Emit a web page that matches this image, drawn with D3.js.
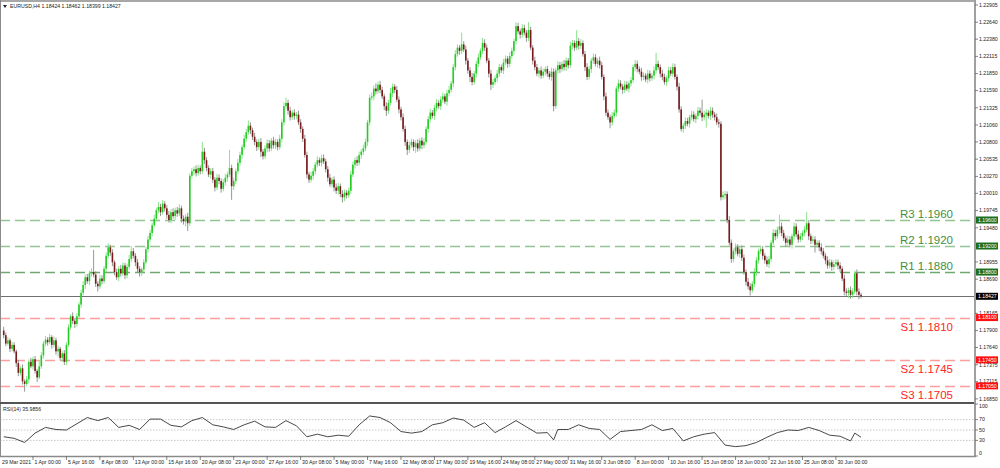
<!DOCTYPE html>
<html><head><meta charset="utf-8">
<script src="https://cdn.jsdelivr.net/npm/d3@7"></script>
<style>html,body{margin:0;padding:0;background:#fff;overflow:hidden}svg{display:block;font-family:"Liberation Sans",Arial,sans-serif}</style>
</head><body><svg id="c" width="1000" height="468"></svg>
<script>
// ---- DATA ----
const firstOpen = 1.1790;
const closes = [
1.1783,1.1770,1.1775,1.1762,1.1768,1.1758,1.1740,1.1725,1.1732,1.1712,
1.1708,1.1715,1.1742,1.1735,1.1746,1.1728,1.1718,1.1735,1.1752,1.1770,
1.1776,1.1772,1.1780,1.1768,1.1775,1.1758,1.1762,1.1748,1.1755,1.1742,
1.1768,1.1795,1.1812,1.1805,1.1800,1.1812,1.1830,1.1848,1.1860,1.1872,
1.1866,1.1878,1.1880,1.1876,1.1862,1.1858,1.1870,1.1866,1.1885,1.1905,
1.1918,1.1910,1.1895,1.1880,1.1872,1.1885,1.1878,1.1890,1.1875,1.1888,
1.1900,1.1912,1.1905,1.1895,1.1885,1.1880,1.1884,1.1895,1.1915,1.1930,
1.1940,1.1952,1.1962,1.1975,1.1980,1.1972,1.1985,1.1978,1.1968,1.1960,
1.1972,1.1966,1.1975,1.1970,1.1978,1.1962,1.1958,1.1965,1.1955,1.2028,
1.2035,1.2038,1.2032,1.2040,1.2035,1.2065,1.2052,1.2040,1.2030,1.2035,
1.2022,1.2010,1.2025,1.2020,1.2008,1.2018,1.2025,1.2030,1.2040,1.2012,
1.2020,1.2035,1.2048,1.2060,1.2072,1.2085,1.2095,1.2105,1.2098,1.2088,
1.2080,1.2072,1.2080,1.2065,1.2058,1.2070,1.2078,1.2070,1.2082,1.2075,
1.2080,1.2072,1.2085,1.2110,1.2135,1.2140,1.2128,1.2118,1.2125,1.2120,
1.2122,1.2110,1.2100,1.2085,1.2060,1.2030,1.2022,1.2028,1.2035,1.2045,
1.2052,1.2048,1.2055,1.2050,1.2038,1.2025,1.2015,1.2022,1.2010,1.2005,
1.2012,1.2000,1.1995,1.2002,1.1998,1.2005,1.2030,1.2045,1.2052,1.2048,
1.2060,1.2065,1.2070,1.2080,1.2110,1.2148,1.2150,1.2162,1.2158,1.2168,
1.2160,1.2150,1.2135,1.2128,1.2140,1.2155,1.2165,1.2160,1.2145,1.2130,
1.2118,1.2100,1.2080,1.2068,1.2075,1.2080,1.2072,1.2078,1.2070,1.2082,
1.2075,1.2080,1.2100,1.2115,1.2125,1.2120,1.2132,1.2140,1.2135,1.2145,
1.2150,1.2142,1.2155,1.2160,1.2170,1.2195,1.2215,1.2225,1.2220,1.2230,
1.2222,1.2205,1.2190,1.2180,1.2172,1.2185,1.2200,1.2210,1.2220,1.2232,
1.2225,1.2205,1.2185,1.2168,1.2172,1.2178,1.2185,1.2195,1.2190,1.2202,
1.2208,1.2200,1.2212,1.2220,1.2235,1.2258,1.2250,1.2245,1.2255,1.2248,
1.2240,1.2252,1.2225,1.2205,1.2195,1.2185,1.2190,1.2182,1.2188,1.2192,
1.2185,1.2180,1.2188,1.2135,1.2190,1.2198,1.2192,1.2200,1.2195,1.2205,
1.2198,1.2228,1.2232,1.2225,1.2235,1.2228,1.2232,1.2215,1.2195,1.2180,
1.2192,1.2205,1.2210,1.2200,1.2205,1.2198,1.2180,1.2150,1.2125,1.2118,
1.2110,1.2120,1.2125,1.2162,1.2170,1.2165,1.2160,1.2168,1.2162,1.2170,
1.2175,1.2195,1.2200,1.2192,1.2188,1.2180,1.2182,1.2176,1.2185,1.2178,
1.2182,1.2190,1.2200,1.2195,1.2185,1.2180,1.2172,1.2178,1.2190,1.2185,
1.2195,1.2180,1.2165,1.2130,1.2100,1.2105,1.2112,1.2108,1.2118,1.2122,
1.2115,1.2120,1.2128,1.2125,1.2118,1.2122,1.2125,1.2120,1.2128,1.2122,
1.2118,1.2110,1.2108,1.1995,1.1998,1.2000,1.1960,1.1925,1.1900,1.1912,
1.1918,1.1908,1.1915,1.1902,1.1880,1.1865,1.1858,1.1852,1.1862,1.1880,
1.1898,1.1912,1.1915,1.1905,1.1898,1.1892,1.1900,1.1925,1.1940,1.1935,
1.1945,1.1950,1.1940,1.1932,1.1925,1.1930,1.1922,1.1935,1.1950,1.1938,
1.1930,1.1935,1.1940,1.1945,1.1955,1.1935,1.1928,1.1930,1.1922,1.1925,
1.1918,1.1912,1.1905,1.1898,1.1890,1.1895,1.1888,1.1892,1.1895,1.1890,
1.1885,1.1870,1.1850,1.1848,1.1852,1.1845,1.1850,1.1878,1.1850,1.1845,
1.18427];
// wick extension beyond the body, in pips
const hiWick = [
6,4,5,3,5,4,3,5,4,6, 3,5,4,6,4,5,3,8,5,4, 6,4,5,3,6,4,5,3,4,5, 4,5,3,6,4,5,4,5,6,4,
5,4,6,34,5,4,6,5,4,5, 6,4,5,3,5,4,6,5,4,5, 6,8,5,4,5,4,3,5,4,6, 5,4,6,4,8,5,6,4,5,6,
5,6,4,5,6,4,5,4,6,4, 5,4,6,5,4,15,6,5,4,5, 5,4,6,5,4,5,6,4,28,5, 5,4,6,5,4,6,5,8,5,4,
6,4,5,6,4,5,6,5,4,6, 5,4,6,5,6,8,5,6,4,5, 4,6,5,4,6,5,4,6,5,4, 6,4,5,6,4,5,6,4,5,6,
5,4,6,5,4,5,6,5,4,6, 5,4,6,5,4,5,6,5,8,5, 6,5,4,6,5,8,5,4,6,5, 4,6,5,4,6,5,4,5,6,4,
5,6,4,5,6,4,5,6,4,5, 6,4,5,6,4,5,6,5,4,18, 5,6,4,5,6,4,5,6,4,8, 6,5,4,6,5,4,6,5,4,6,
5,4,6,5,4,6,5,4,6,5, 4,12,5,4,6,5,4,6,5,4, 5,4,6,5,4,6,5,4,6,5, 4,6,5,4,17,5,6,4,5,6,
5,4,6,5,4,6,5,4,6,5, 4,6,5,4,6,5,4,6,5,4, 5,4,6,5,4,6,5,4,6,5, 4,6,17,5,4,6,5,4,6,5,
6,5,4,6,5,4,6,5,4,6, 5,4,6,5,20,6,5,4,6,5, 4,6,5,4,6,5,4,6,5,4, 6,5,4,6,5,4,6,5,4,6,
5,4,6,5,4,6,5,4,6,5, 5,18,6,5,4,6,5,4,6,5, 6,5,4,6,17,5,4,6,5,4, 4,6,5,4,6,5,4,6,5,4,
5,4,6,5,4,6,5,4,6,5,3];
const loWick = [
5,4,3,5,4,3,6,5,4,5, 12,4,6,3,5,4,7,3,4,5, 4,5,3,6,4,5,8,4,6,5, 5,3,4,5,6,4,3,5,4,6,
4,6,5,4,5,8,4,5,4,5, 4,5,6,5,4,6,5,4,6,5, 4,5,4,6,5,7,6,4,3,5, 4,5,3,4,5,6,4,5,6,4,
5,4,6,5,4,6,5,8,12,4, 4,6,5,4,5,4,6,5,4,6, 5,6,4,5,6,4,5,6,4,21, 6,5,4,5,6,4,5,4,6,5,
5,6,4,8,5,4,6,5,4,5, 6,5,4,6,5,4,6,5,4,6, 5,4,6,5,4,6,5,4,6,5, 4,5,6,4,5,6,4,5,6,5,
6,5,8,6,5,4,5,4,6,5, 4,6,5,4,6,5,4,6,5,4, 5,4,6,8,5,4,6,5,4,6, 5,4,6,8,5,4,6,9,5,4,
6,5,4,6,5,4,6,5,4,6, 5,4,6,5,4,6,5,4,6,5, 4,6,5,8,5,4,6,5,4,5, 5,4,6,8,5,4,6,5,4,6,
4,6,5,4,6,5,4,6,5,4, 6,5,4,6,5,4,6,5,4,6, 5,4,6,8,4,5,6,4,5,6, 5,4,6,5,4,6,5,4,6,5,
4,6,5,4,6,5,4,6,5,4, 9,5,4,6,5,4,6,5,4,6, 5,4,6,5,4,6,5,4,6,5, 4,6,5,4,6,5,4,6,5,4,
5,4,6,5,4,6,5,4,6,5, 4,6,5,4,6,5,20,4,6,5, 5,4,6,5,4,6,5,4,6,5, 5,4,6,5,4,6,5,8,4,5,
6,5,4,6,5,4,6,5,4,6, 4,6,5,4,6,5,4,6,5,4, 5,4,6,5,4,6,5,4,12,5, 6,5,4,6,5,4,6,5,4,6,
5,4,6,5,8,6,5,4,6,7,3];
const rsiBars = [0,5,10,15,20,25,30,35,40,45,50,55,60,65,70,75,80,85,90,95,100,105,110,115,120,125,130,135,140,145,150,155,160,165,170,175,180,185,190,195,200,205,210,215,220,225,230,235,240,245,250,255,260,263,265,270,275,280,285,290,295,300,305,310,315,320,325,330,335,340,345,350,355,360,365,370,375,380,385,390,395,400,405,407,410];
const rsiValues = [37,34,26,44,55,51,50,62,74,68,74,55,59,51,71,71,59,56,68,74,60,56,51,60,67,56,55,68,58,37,42,37,40,38,60,77,74,64,47,44,47,60,64,73,69,55,64,45,56,68,56,44,45,31,51,51,60,53,51,32,47,49,51,60,49,53,29,37,42,45,21,18,20,26,36,45,50,49,55,49,40,38,29,44,36];
const levelNames = ["R3","R2","R1","S1","S2","S3"];
const levelValues = [1.1960,1.1920,1.1880,1.1810,1.1745,1.1705];
const lastPrice = 1.18427;
const titleText = "EURUSD,H4  1.18424 1.18462 1.18399 1.18427";
const rsiTitle = "RSI(14) 35.9856";
const priceTicks = [1.22905,1.22640,1.22380,1.22115,1.21850,1.21590,1.21325,1.21060,1.20800,1.20535,1.20270,1.20010,1.19745,1.19480,1.18955,1.18690,1.18165,1.17900,1.17640,1.17375,1.17115,1.16850];
const rsiTicks = [100,70,50,30,0];
const rsiLevels = [70,50,30];
const timeBars = [0,14,30,46,62,78,94,110,126,142,158,174,190,206,222,238,254,270,286,302,318,334,350,366,382,398];
const timeLabels = ["29 Mar 2021","1 Apr 00:00","5 Apr 16:00","8 Apr 08:00","13 Apr 00:00","15 Apr 16:00","20 Apr 08:00","23 Apr 00:00","27 Apr 16:00","30 Apr 08:00","5 May 00:00","7 May 16:00","12 May 08:00","17 May 00:00","19 May 16:00","24 May 08:00","27 May 00:00","31 May 16:00","3 Jun 08:00","8 Jun 00:00","10 Jun 16:00","15 Jun 08:00","18 Jun 00:00","22 Jun 16:00","25 Jun 08:00","30 Jun 00:00"];

// ---- LAYOUT ----
const svg = d3.select("#c");
const W = 1000, H = 468, axisX = 975, priceTop = 2, priceBot = 402, rsiTop = 404, rsiBot = 456;
const N = closes.length;
const x = d3.scaleLinear().domain([0, N - 1]).range([3.7, 3.7 + (N - 1) * 2.091]);
const y = d3.scaleLinear().domain([1.168021, 1.229513]).range([priceBot, priceTop]);
const yr = d3.scaleLinear().domain([0, 100]).range([rsiBot, rsiTop]);

svg.append("rect").attr("width", W).attr("height", H).attr("fill", "#fff");

// level lines
const isR = n => n[0] === "R";
const lv = svg.append("g");
levelNames.forEach((n, i) => {
  const yy = Math.round(y(levelValues[i])) + 0.5;
  lv.append("line").attr("x1", 0).attr("x2", axisX).attr("y1", yy).attr("y2", yy)
    .attr("stroke", isR(n) ? (n === "R1" ? "#6fa86f" : "#93c493") : "#ff9c9c")
    .attr("stroke-width", 1.4).attr("stroke-dasharray", "10,5");
  lv.append("text").attr("x", 953).attr("y", isR(n) ? yy - 2.5 : yy + 12)
    .attr("text-anchor", "end").attr("font-size", 11.5)
    .attr("fill", isR(n) ? "#3f8f3f" : "#ff2424")
    .text(n + " " + levelValues[i].toFixed(4));
});

// current price line
const yLast = Math.round(y(lastPrice)) + 0.5;
svg.append("line").attr("x1", 0).attr("x2", axisX).attr("y1", yLast).attr("y2", yLast)
  .attr("stroke", "#707070").attr("stroke-width", 1);

// candles
const candles = closes.map((c, i) => {
  const o = i === 0 ? firstOpen : closes[i - 1];
  return {i, o, c, h: Math.max(o, c) + hiWick[i] * 1e-4, l: Math.min(o, c) - loWick[i] * 1e-4};
});
const cg = svg.append("g");
cg.selectAll("line.w").data(candles).join("line").attr("class", "w")
  .attr("x1", d => x(d.i)).attr("x2", d => x(d.i))
  .attr("y1", d => y(d.h)).attr("y2", d => y(d.l))
  .attr("stroke", d => d.c >= d.o ? "#7fe07f" : "#8a8a8a").attr("stroke-width", 0.9);
cg.selectAll("rect.b").data(candles).join("rect").attr("class", "b")
  .attr("x", d => x(d.i) - 0.8).attr("width", 1.6)
  .attr("y", d => y(Math.max(d.o, d.c)))
  .attr("height", d => Math.max(1, Math.abs(y(d.o) - y(d.c))))
  .attr("fill", d => d.c >= d.o ? "#22cc22" : "#7a1a1a");

// RSI panel
rsiLevels.forEach(v => {
  svg.append("line").attr("x1", 0).attr("x2", axisX).attr("y1", yr(v)).attr("y2", yr(v))
    .attr("stroke", "#c8c8c8").attr("stroke-width", 1).attr("stroke-dasharray", "1.5,1.5");
});
svg.append("path").datum(rsiBars.map((b, k) => [b, rsiValues[k]]))
  .attr("d", d3.line().x(d => x(d[0])).y(d => yr(d[1])))
  .attr("fill", "none").attr("stroke", "#333").attr("stroke-width", 0.9);

// frames
svg.append("line").attr("x1", 0).attr("x2", axisX).attr("y1", 1).attr("y2", 1).attr("stroke", "#8a8a8a").attr("stroke-width", 1.5);
svg.append("line").attr("x1", 0.5).attr("x2", 0.5).attr("y1", 0).attr("y2", rsiBot).attr("stroke", "#8a8a8a");
svg.append("line").attr("x1", 0).attr("x2", axisX).attr("y1", 403).attr("y2", 403).attr("stroke", "#555").attr("stroke-width", 2);
svg.append("line").attr("x1", 0).attr("x2", axisX + 1).attr("y1", rsiBot + 0.5).attr("y2", rsiBot + 0.5).attr("stroke", "#8a8a8a").attr("stroke-width", 1.5);
svg.append("line").attr("x1", axisX).attr("x2", axisX).attr("y1", 0).attr("y2", rsiBot + 1).attr("stroke", "#a0a0a0").attr("stroke-width", 2);

// right price axis
const fs = 5.2;
const ax = svg.append("g").attr("font-size", fs).attr("fill", "#222");
priceTicks.forEach(p => {
  const yy = y(p);
  ax.append("line").attr("x1", axisX).attr("x2", axisX + 3).attr("y1", yy).attr("y2", yy).attr("stroke", "#666").attr("stroke-width", 0.8);
  ax.append("text").attr("x", axisX + 4).attr("y", yy + 1.8).text(p.toFixed(5));
});
function box(p, fill) {
  const yy = y(p);
  ax.append("rect").attr("x", axisX + 1).attr("y", yy - 3.5).attr("width", 22).attr("height", 7).attr("fill", fill);
  ax.append("text").attr("x", axisX + 3).attr("y", yy + 1.8).attr("fill", "#fff").text(p.toFixed(5));
}
levelNames.forEach((n, i) => box(levelValues[i], isR(n) ? "#1e6e1e" : "#ff1010"));
box(lastPrice, "#000");

// RSI axis
rsiTicks.forEach(v => {
  const yy = Math.min(Math.max(yr(v), rsiTop + 2.5), rsiBot - 2.5);
  ax.append("line").attr("x1", axisX).attr("x2", axisX + 3).attr("y1", yr(v)).attr("y2", yr(v)).attr("stroke", "#666").attr("stroke-width", 0.8);
  ax.append("text").attr("x", axisX + 4).attr("y", yy + 1.8).text(v);
});

// time axis
timeBars.forEach((b, k) => {
  const xx = k === 0 ? 2 : x(b);
  if (k > 0) ax.append("line").attr("x1", xx).attr("x2", xx).attr("y1", rsiBot).attr("y2", rsiBot + 4).attr("stroke", "#666").attr("stroke-width", 0.8);
  ax.append("text").attr("x", xx + (k === 0 ? 0 : 1.5)).attr("y", 463.5).text(timeLabels[k]);
});

// titles
svg.append("path").attr("d", "M3,5 L7,5 L5,8 Z").attr("fill", "#222");
svg.append("text").attr("x", 10).attr("y", 8).attr("font-size", fs).attr("fill", "#222").text(titleText);
svg.append("text").attr("x", 3).attr("y", 411).attr("font-size", fs).attr("fill", "#222").text(rsiTitle);
</script></body></html>
